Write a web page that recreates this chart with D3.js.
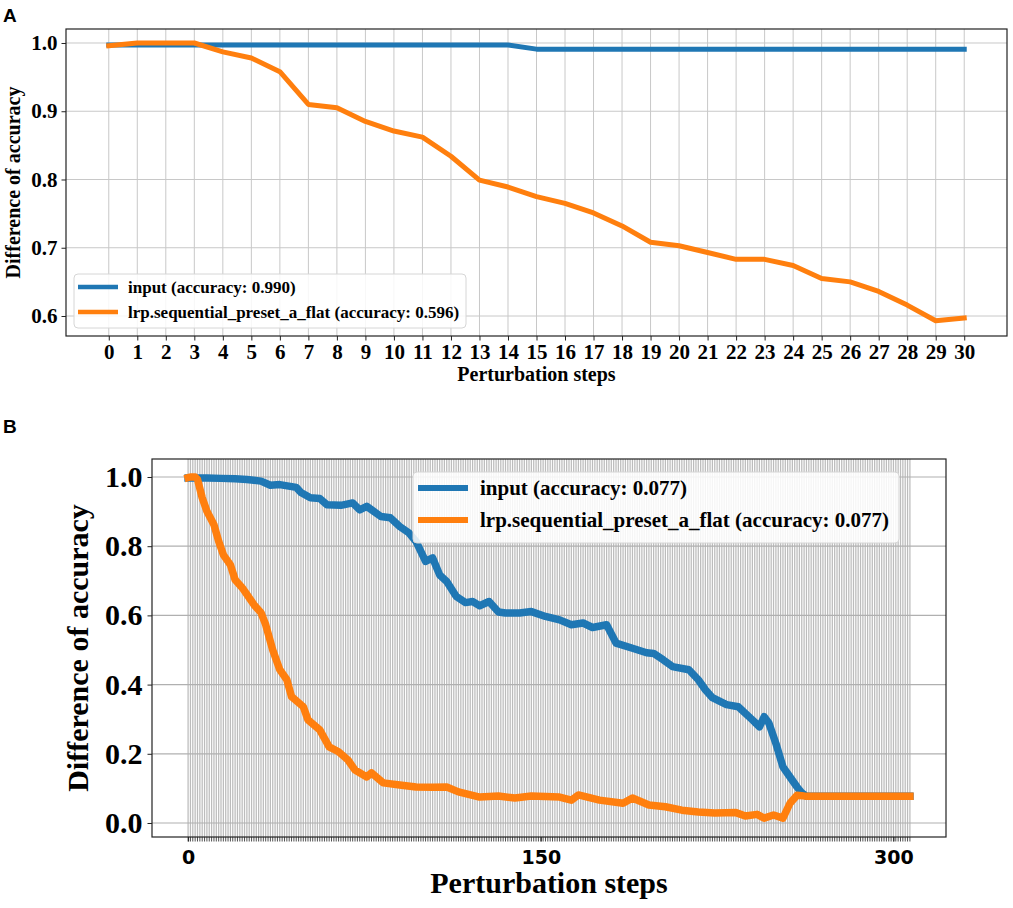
<!DOCTYPE html>
<html lang="en">

<head>
    <meta charset="UTF-8">
    <title>Perturbation steps</title>
    <style>
        body { margin: 0; background: #fff; }
        svg text { font-family: "Liberation Serif", "Times New Roman", serif; font-weight: bold; fill: #000; }
        .panel-tag { font-family: "Liberation Sans", Arial, sans-serif; }
    </style>
</head>

<body>
    <svg id="chart" width="1013" height="908"></svg>
    <script src="https://cdn.jsdelivr.net/npm/d3@7/dist/d3.min.js"></script>
    <script type="text/javascript">
        // ---- panel A data (30 steps) ----
        const stepsA = [0, 1, 2, 3, 4, 5, 6, 7, 8, 9, 10, 11, 12, 13, 14, 15,
            16, 17, 18, 19, 20, 21, 22, 23, 24, 25, 26, 27, 28, 29, 30];
        const inputA = [0.997, 0.997, 0.997, 0.997, 0.997, 0.997, 0.997, 0.997, 0.997, 0.997,
            0.997, 0.997, 0.997, 0.997, 0.997, 0.991, 0.991, 0.991, 0.991, 0.991,
            0.991, 0.991, 0.991, 0.991, 0.991, 0.991, 0.991, 0.991, 0.991, 0.991, 0.991];
        const lrpA = [0.996, 1.0, 1.0, 1.0, 0.987, 0.978, 0.958, 0.910, 0.905, 0.885,
            0.871, 0.862, 0.834, 0.799, 0.789, 0.775, 0.765, 0.751, 0.732, 0.708,
            0.703, 0.693, 0.683, 0.683, 0.674, 0.655, 0.650, 0.636, 0.616, 0.593, 0.597];
        const yTicksA = [0.6, 0.7, 0.8, 0.9, 1.0];

        // ---- panel B data (every few steps) ----
        const inputStepsB = [0, 8, 14, 20, 25, 31, 35, 39, 46, 48, 52, 56, 59, 65, 70, 73, 76,
            82, 86, 90, 94, 97, 101, 104, 107, 110, 114, 118, 121, 124, 128, 132, 135,
            141, 146, 152, 158, 163, 168, 172, 178, 182, 189, 195, 198, 202, 206, 213,
            217, 220, 223, 229, 234, 240, 243, 245, 247, 250, 253, 256, 259, 261, 263, 307];
        const inputB = [0.997, 0.997, 0.996, 0.995, 0.993, 0.988, 0.976, 0.978, 0.970, 0.955,
            0.940, 0.938, 0.920, 0.918, 0.925, 0.905, 0.915, 0.886, 0.882, 0.857, 0.838,
            0.813, 0.756, 0.766, 0.717, 0.698, 0.655, 0.637, 0.640, 0.628, 0.640, 0.610,
            0.607, 0.607, 0.611, 0.597, 0.587, 0.573, 0.578, 0.565, 0.573, 0.520, 0.505,
            0.492, 0.490, 0.472, 0.452, 0.443, 0.414, 0.385, 0.362, 0.342, 0.336, 0.298,
            0.278, 0.307, 0.289, 0.230, 0.162, 0.133, 0.104, 0.087, 0.077, 0.077];
        const lrpStepsB = [0, 1, 3, 4, 6, 8, 11, 13, 15, 18, 20, 23, 28, 31, 33, 36, 39, 42, 44,
            49, 51, 56, 60, 64, 68, 71, 76, 78, 83, 90, 97, 104, 110, 115, 124, 132,
            139, 146, 158, 163, 166, 175, 185, 189, 196, 203, 210, 217, 224, 233, 237,
            242, 245, 249, 253, 256, 259, 261, 263, 307];
        const lrpB = [0.998, 1.0, 1.0, 0.993, 0.940, 0.901, 0.862, 0.814, 0.775, 0.746,
            0.703, 0.680, 0.631, 0.608, 0.573, 0.500, 0.443, 0.414, 0.365, 0.336, 0.298,
            0.269, 0.220, 0.206, 0.182, 0.153, 0.133, 0.145, 0.116, 0.110, 0.104, 0.103,
            0.104, 0.090, 0.075, 0.078, 0.072, 0.078, 0.075, 0.066, 0.081, 0.066, 0.057,
            0.072, 0.052, 0.047, 0.037, 0.032, 0.029, 0.030, 0.020, 0.025, 0.014, 0.023,
            0.014, 0.057, 0.080, 0.079, 0.077, 0.077];
        const lastStepB = 307;
        const xLabelTicksB = [0, 150, 300];
        const yTicksB = [0.0, 0.2, 0.4, 0.6, 0.8, 1.0];

        const blue = "#1f77b4", orange = "#ff7f0e";

        const svg = d3.select("#chart");

        function drawFrame(g, w, h) {
            g.append("rect")
                .attr("x", 0).attr("y", 0)
                .attr("width", w).attr("height", h)
                .attr("fill", "none")
                .attr("stroke", "#222")
                .attr("stroke-width", 1.2);
        }

        function drawLegend(g, box, rows) {
            const lg = g.append("g").attr("transform", "translate(" + box.x + "," + box.y + ")");
            lg.append("rect")
                .attr("width", box.w).attr("height", box.h)
                .attr("rx", 4)
                .attr("fill", "#fff").attr("fill-opacity", 0.85)
                .attr("stroke", "#d6d6d6");
            rows.forEach(function (r, i) {
                const cy = box.row0 + i * box.rowGap;
                lg.append("line")
                    .attr("x1", box.lx0).attr("x2", box.lx1)
                    .attr("y1", cy).attr("y2", cy)
                    .attr("stroke", r.color).attr("stroke-width", box.lw);
                lg.append("text")
                    .attr("x", box.tx).attr("y", cy)
                    .attr("dy", "0.33em")
                    .attr("font-size", box.fs + "px")
                    .text(r.label);
            });
        }

        function styleAxis(a, size) {
            a.select(".domain").remove();
            a.selectAll("line").attr("stroke", "#222");
            a.selectAll("text").attr("font-size", size + "px").attr("fill", "#000")
                .style("font-family", "'Liberation Serif', serif").style("font-weight", "bold");
        }

        // ================= panel A =================
        function drawPanelA() {
            const m = { left: 66, top: 29 };
            const w = 941, h = 307;
            const g = svg.append("g").attr("transform", "translate(" + m.left + "," + m.top + ")");

            const x = d3.scaleLinear().domain([-1.5, 31.5]).range([0, w]);
            const y = d3.scaleLinear().domain([0.5707, 1.0205]).range([h, 0]);

            // grid
            g.append("g").selectAll("line").data(stepsA).enter().append("line")
                .attr("x1", d => x(d)).attr("x2", d => x(d))
                .attr("y1", 0).attr("y2", h)
                .attr("stroke", "#c8c8c8").attr("stroke-width", 1);
            g.append("g").selectAll("line").data(yTicksA).enter().append("line")
                .attr("x1", 0).attr("x2", w)
                .attr("y1", d => y(d)).attr("y2", d => y(d))
                .attr("stroke", "#c8c8c8").attr("stroke-width", 1);

            // axes
            const xa = g.append("g").attr("transform", "translate(0," + h + ")")
                .call(d3.axisBottom(x).tickValues(stepsA).tickFormat(d3.format("d")).tickSize(4.5).tickPadding(4));
            const ya = g.append("g")
                .call(d3.axisLeft(y).tickValues(yTicksA).tickFormat(d3.format(".1f")).tickSize(4.5).tickPadding(4));
            styleAxis(xa, 21);
            styleAxis(ya, 21);

            // lines
            const line = d3.line().x((d, i) => x(stepsA[i])).y(d => y(d));
            g.append("path").datum(inputA)
                .attr("d", line).attr("fill", "none")
                .attr("stroke", blue).attr("stroke-width", 5)
                .attr("stroke-linejoin", "round").attr("stroke-linecap", "square");
            g.append("path").datum(lrpA)
                .attr("d", line).attr("fill", "none")
                .attr("stroke", orange).attr("stroke-width", 5)
                .attr("stroke-linejoin", "round").attr("stroke-linecap", "square");

            drawFrame(g, w, h);

            drawLegend(g, { x: 8, y: 245, w: 392, h: 54, row0: 13, rowGap: 25, lx0: 4, lx1: 44, lw: 4.5, tx: 54, fs: 17 }, [
                { color: blue, label: "input (accuracy: 0.990)" },
                { color: orange, label: "lrp.sequential_preset_a_flat (accuracy: 0.596)" }
            ]);

            // labels
            svg.append("text")
                .attr("x", m.left + w / 2).attr("y", 381)
                .attr("text-anchor", "middle").attr("font-size", "20px")
                .text("Perturbation steps");
            svg.append("text")
                .attr("transform", "translate(20," + (m.top + h / 2) + ") rotate(-90)")
                .attr("text-anchor", "middle").attr("font-size", "20px")
                .text("Difference of accuracy");
            svg.append("text").attr("class", "panel-tag")
                .attr("x", 3).attr("y", 22).attr("font-size", "19px")
                .text("A");
        }

        // ================= panel B =================
        function drawPanelB() {
            const m = { left: 152, top: 459 };
            const w = 794, h = 378;
            const g = svg.append("g").attr("transform", "translate(" + m.left + "," + m.top + ")");

            const x = d3.scaleLinear().domain([-15.35, 322.35]).range([0, w]);
            const y = d3.scaleLinear().domain([-0.0405, 1.052]).range([h, 0]);
            const allSteps = d3.range(0, lastStepB + 1); // one grid line / tick per step

            g.append("g").selectAll("line").data(allSteps).enter().append("line")
                .attr("x1", d => x(d)).attr("x2", d => x(d))
                .attr("y1", 0).attr("y2", h)
                .attr("stroke", "#bcbcbc").attr("stroke-width", 1.25);
            g.append("g").selectAll("line").data(yTicksB).enter().append("line")
                .attr("x1", 0).attr("x2", w)
                .attr("y1", d => y(d)).attr("y2", d => y(d))
                .attr("stroke", "#b0b0b0").attr("stroke-width", 1.2);

            // minor ticks on every step, labels on 0/150/300
            g.append("g").attr("transform", "translate(0," + h + ")")
                .selectAll("line").data(allSteps).enter().append("line")
                .attr("x1", d => x(d)).attr("x2", d => x(d))
                .attr("y1", 0).attr("y2", 4.5)
                .attr("stroke", "#222").attr("stroke-width", 0.8);
            const xa = g.append("g").attr("transform", "translate(0," + h + ")")
                .call(d3.axisBottom(x).tickValues(xLabelTicksB).tickFormat(d3.format("d")).tickSize(4.5).tickPadding(9));
            xa.select(".domain").remove();
            xa.selectAll("line").attr("stroke", "#222");
            xa.selectAll("text").attr("font-size", "19px").attr("fill", "#000")
                .style("font-family", "'DejaVu Sans', sans-serif").style("font-weight", "bold");

            const ya = g.append("g")
                .call(d3.axisLeft(y).tickValues(yTicksB).tickFormat(d3.format(".1f")).tickSize(4.5).tickPadding(5));
            styleAxis(ya, 30);

            const lineOf = steps => d3.line().x((d, i) => x(steps[i])).y(d => y(d));
            g.append("path").datum(inputB)
                .attr("d", lineOf(inputStepsB)).attr("fill", "none")
                .attr("stroke", blue).attr("stroke-width", 7.5)
                .attr("stroke-linejoin", "round").attr("stroke-linecap", "square");
            g.append("path").datum(lrpB)
                .attr("d", lineOf(lrpStepsB)).attr("fill", "none")
                .attr("stroke", orange).attr("stroke-width", 7.5)
                .attr("stroke-linejoin", "round").attr("stroke-linecap", "square");

            drawFrame(g, w, h);

            drawLegend(g, { x: 261, y: 13, w: 486, h: 71, row0: 16, rowGap: 32, lx0: 5, lx1: 55, lw: 6, tx: 67, fs: 21 }, [
                { color: blue, label: "input (accuracy: 0.077)" },
                { color: orange, label: "lrp.sequential_preset_a_flat (accuracy: 0.077)" }
            ]);

            svg.append("text")
                .attr("x", m.left + w / 2).attr("y", 893)
                .attr("text-anchor", "middle").attr("font-size", "30px")
                .text("Perturbation steps");
            svg.append("text")
                .attr("transform", "translate(88," + (m.top + h / 2) + ") rotate(-90)")
                .attr("text-anchor", "middle").attr("font-size", "30px")
                .text("Difference of accuracy");
            svg.append("text").attr("class", "panel-tag")
                .attr("x", 3).attr("y", 433).attr("font-size", "19px")
                .text("B");
        }

        drawPanelA();
        drawPanelB();
    </script>
</body>

</html>
